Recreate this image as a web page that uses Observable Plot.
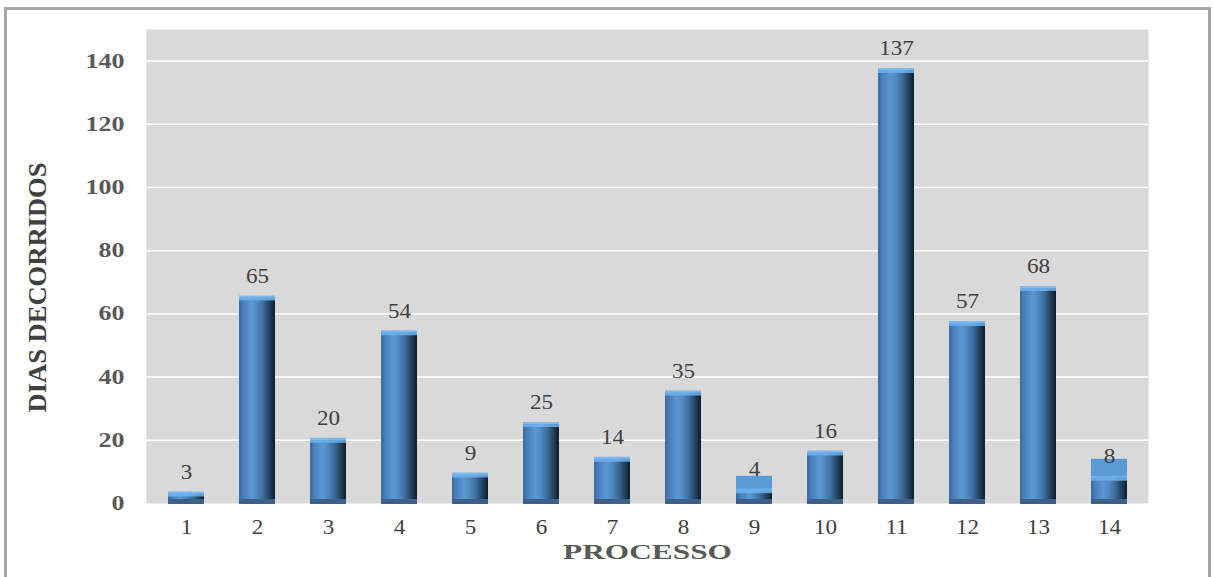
<!DOCTYPE html>
<html>
<head>
<meta charset="utf-8">
<script src="https://cdn.jsdelivr.net/npm/d3@7"></script>
<script src="https://cdn.jsdelivr.net/npm/@observablehq/plot@0.6"></script>
<style>
  html, body { margin: 0; padding: 0; background: #fff; overflow: hidden; }
  #wrap { position: relative; width: 1213px; height: 577px; }
  #frame { position: absolute; left: 4px; top: 7px; width: 1207px; height: 580px;
           border: 3px solid #a6a6a6; box-sizing: border-box; pointer-events: none; z-index: 2; }
  svg { position: absolute; left: 0; top: 0; }
</style>
</head>
<body>
<div id="wrap"><div id="frame"></div></div>
<script>
// Data
const processos = ["1","2","3","4","5","6","7","8","9","10","11","12","13","14"];
const dias = [3, 65, 20, 54, 9, 25, 14, 35, 4, 16, 137, 57, 68, 8];
// lighter "back" bars visible behind processes 9 and 14 (rendering artefact in the original)
const fundoProcessos = ["9", "14"];
const fundoValores = [8.6, 14];
const yTicks = [0, 20, 40, 60, 80, 100, 120, 140];

const data = processos.map((p, i) => ({processo: p, dias: dias[i]}));
const fundo = fundoProcessos.map((p, i) => ({processo: p, dias: fundoValores[i]}));

const serif = "'Liberation Serif', 'Times New Roman', serif";

const chart = Plot.plot({
  width: 1213,
  height: 577,
  marginLeft: 146,
  marginRight: 65,
  marginTop: 29,
  marginBottom: 74,
  style: {fontFamily: serif, background: "transparent", overflow: "visible"},
  x: {domain: processos, paddingInner: 0.5, paddingOuter: 0.25, label: null},
  y: {domain: [0, 150], label: null},
  marks: [
    Plot.frame({fill: "#d9d9d9", stroke: null}),
    Plot.gridY(yTicks.filter(d => d > 0), {stroke: "#ffffff", strokeOpacity: 1, strokeWidth: 1.5}),
    Plot.axisY(yTicks, {tickSize: 0, tickPadding: 22, fontSize: 20, fontWeight: "bold", fill: "#595959", label: null, className: "yax"}),
    Plot.axisX({tickSize: 0, tickPadding: 16, fontSize: 21, fill: "#404040", label: null, className: "xax"}),
    Plot.barY(fundo, {x: "processo", y: "dias", fill: "#5b9bd5"}),
    Plot.barY(data, {x: "processo", y: "dias", fill: "url(#barGrad)"}),
    Plot.tickY(data, {x: "processo", y: "dias", stroke: "#6fb2ee", strokeWidth: 5, strokeOpacity: 0.85}),
    Plot.tickY(data, {x: "processo", y: 0, stroke: "#3d6089", strokeWidth: 5, dy: -2}),
    Plot.text(data, {x: "processo", y: "dias", text: d => String(d.dias), dy: -22, fontSize: 21, fill: "#404040", className: "vlab"}),
    Plot.text(["PROCESSO"], {frameAnchor: "bottom", dy: 55, fontSize: 22, fontWeight: "bold", fill: "#595959", className: "xtitle"}),
    Plot.text(["DIAS DECORRIDOS"], {frameAnchor: "left", textAnchor: "middle", dx: -109, dy: 21, rotate: -90, fontSize: 25, fontWeight: "bold", fill: "#404040", className: "ytitle"})
  ]
});

// horizontal gradient for the bevelled bars
const svg = d3.select(chart);
const defs = svg.insert("defs", ":first-child");
const g = defs.append("linearGradient").attr("id", "barGrad").attr("x1", 0).attr("x2", 1).attr("y1", 0).attr("y2", 0);
[[0, "#3b6a9c"], [0.12, "#4a80ba"], [0.35, "#5a97d1"], [0.5, "#4f88c1"], [0.68, "#3c6a99"],
 [0.85, "#23405f"], [1, "#0e1b29"]].forEach(([o, c]) => g.append("stop").attr("offset", o).attr("stop-color", c));

document.getElementById("wrap").appendChild(chart);

// widen text like the original (horizontally stretched rendering)
function stretch(sel, f) {
  svg.selectAll(sel).each(function() {
    const w = this.getComputedTextLength();
    if (w > 0) d3.select(this).attr("textLength", w * f).attr("lengthAdjust", "spacingAndGlyphs");
  });
}
stretch(".yax text", 1.3);
stretch(".xax text", 1.1);
stretch(".vlab text", 1.1);
svg.selectAll(".xtitle text").attr("textLength", 169).attr("lengthAdjust", "spacingAndGlyphs");
svg.selectAll(".ytitle text").attr("textLength", 250).attr("lengthAdjust", "spacingAndGlyphs");
</script>
</body>
</html>
